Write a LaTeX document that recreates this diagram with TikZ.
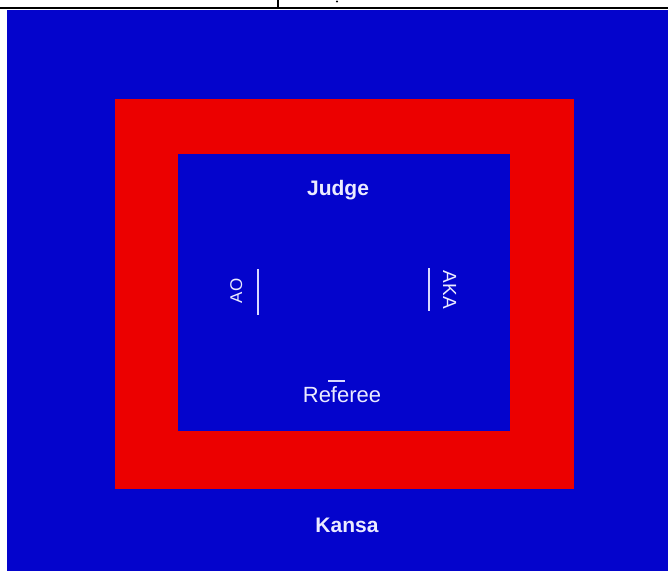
\documentclass[tikz,border=0pt]{standalone}
\usepackage{fontspec}
\setmainfont{Liberation Sans}
\definecolor{matblue}{RGB}{4,4,204}
\definecolor{matred}{RGB}{236,0,0}
\begin{document}
\begin{tikzpicture}[x=1pt,y=-1pt,
  lbl/.style={text=white!92!blue,inner sep=0pt,anchor=base},
  blbl/.style={lbl,font=\fontsize{21}{22}\selectfont\bfseries},
  mark line/.style={draw=white!85!blue,line width=2.2pt}]
\useasboundingbox (0,0) rectangle (668,571);
\fill[white] (0,0) rectangle (668,571);
\draw[line width=1.5pt] (0,8) -- (668,8);
\draw[line width=1.2pt] (278,0) -- (278,8);
\fill (337,1.5) circle (1.2);
\fill[matblue] (7,10) rectangle (668,571);
\fill[matred] (115,99) rectangle (574,489);
\fill[matblue] (178,154) rectangle (510,431);
\node[blbl] (judge) at (338,195) {Judge};
\node[lbl,rotate=90,font=\fontsize{17}{18}\selectfont] (ao) at (242,291) {AO};
\node[lbl,rotate=-90,font=\fontsize{19}{20}\selectfont] (aka) at (443,290) {AKA};
\node[lbl,font=\fontsize{22}{23}\selectfont] (ref) at (342,402) {Referee};
\node[blbl] (kansa) at (347,532) {Kansa};
\coordinate (aoT) at (258,269); \coordinate (aoB) at (258,315);
\coordinate (akaT) at (429,268); \coordinate (akaB) at (429,311);
\coordinate (refL) at (328,381); \coordinate (refR) at (345,381);
\draw[mark line] (aoT) -- (aoB);
\draw[mark line] (akaT) -- (akaB);
\draw[mark line] (refL) -- (refR);
\end{tikzpicture}
\end{document}
